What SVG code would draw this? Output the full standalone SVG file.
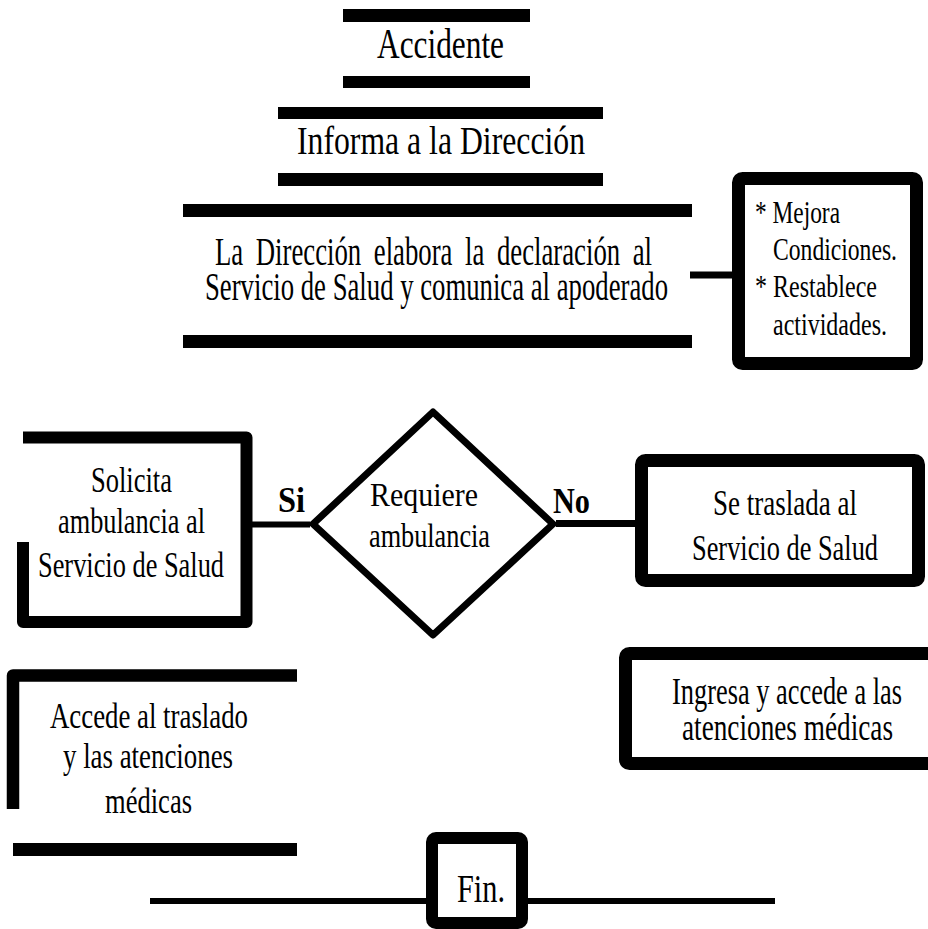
<svg xmlns="http://www.w3.org/2000/svg" width="928" height="929" viewBox="0 0 928 929">
<style>
.t{font-family:"Liberation Serif","Times New Roman",serif;fill:#000}
.b{font-family:"Liberation Serif","Times New Roman",serif;font-weight:bold;fill:#000}
.bar{fill:#000}
.frame{fill:#fff;stroke:#000;stroke-linejoin:round}
.open{fill:none;stroke:#000;stroke-linejoin:round}
.con{stroke:#000;fill:none}
</style>
<rect width="928" height="929" fill="#fff"/>
<g id="connectors">
<line class="con" x1="690" y1="275" x2="734" y2="275" stroke-width="7"/>
<line class="con" x1="250" y1="524.5" x2="310" y2="524.5" stroke-width="6"/>
<line class="con" x1="556" y1="523.5" x2="637" y2="523.5" stroke-width="7"/>
<line class="con" x1="150" y1="901" x2="428" y2="901" stroke-width="6"/>
<line class="con" x1="526" y1="901" x2="775" y2="901" stroke-width="6"/>
</g>
<g id="accidente">
<rect class="bar" x="343" y="9" width="187" height="13"/>
<rect class="bar" x="343" y="76" width="187" height="12"/>
<text class="t" x="377" y="58" font-size="42" textLength="127" lengthAdjust="spacingAndGlyphs">Accidente</text>
</g>
<g id="informa">
<rect class="bar" x="278" y="107" width="325" height="12"/>
<rect class="bar" x="278" y="173" width="325" height="13"/>
<text class="t" x="297" y="154" font-size="41" textLength="288" lengthAdjust="spacingAndGlyphs">Informa a la Dirección</text>
</g>
<g id="declaracion">
<rect class="bar" x="183" y="204" width="509" height="13"/>
<rect class="bar" x="183" y="335" width="509" height="13"/>
<text class="t" x="215" y="265" font-size="41" word-spacing="9" textLength="437" lengthAdjust="spacingAndGlyphs">La Dirección elabora la declaración al</text>
<text class="t" x="205" y="300" font-size="41" textLength="463" lengthAdjust="spacingAndGlyphs">Servicio de Salud y comunica al apoderado</text>
</g>
<g id="mejora">
<rect class="frame" x="738.5" y="178.5" width="178" height="185" rx="4" stroke-width="13"/>
<text class="t" x="755" y="223" font-size="32" textLength="85" lengthAdjust="spacingAndGlyphs">* Mejora</text>
<text class="t" x="773" y="260" font-size="32" textLength="124" lengthAdjust="spacingAndGlyphs">Condiciones.</text>
<text class="t" x="755" y="297" font-size="32" textLength="122" lengthAdjust="spacingAndGlyphs">* Restablece</text>
<text class="t" x="773" y="335" font-size="32" textLength="114" lengthAdjust="spacingAndGlyphs">actividades.</text>
</g>
<g id="solicita">
<path class="open" d="M23 437.5 H246.5 V622 H23 V542" stroke-width="12"/>
<text class="t" x="91" y="492" font-size="36" textLength="81" lengthAdjust="spacingAndGlyphs">Solicita</text>
<text class="t" x="58" y="533" font-size="36" textLength="147" lengthAdjust="spacingAndGlyphs">ambulancia al</text>
<text class="t" x="38" y="577" font-size="36" textLength="186" lengthAdjust="spacingAndGlyphs">Servicio de Salud</text>
</g>
<g id="si">
<text class="b" x="278" y="512" font-size="36" textLength="27" lengthAdjust="spacingAndGlyphs">Si</text>
</g>
<g id="requiere">
<polygon class="frame" points="433,412 553,524 433,635 313,524" stroke-width="7" stroke-linejoin="miter"/>
<text class="t" x="370" y="506" font-size="33" textLength="108" lengthAdjust="spacingAndGlyphs">Requiere</text>
<text class="t" x="369" y="547" font-size="33" textLength="121" lengthAdjust="spacingAndGlyphs">ambulancia</text>
</g>
<g id="no">
<text class="b" x="553" y="513" font-size="36" textLength="37" lengthAdjust="spacingAndGlyphs">No</text>
</g>
<g id="traslada">
<rect class="frame" x="641.5" y="460.5" width="277" height="120" rx="4" stroke-width="13"/>
<text class="t" x="713" y="515" font-size="36" textLength="144" lengthAdjust="spacingAndGlyphs">Se traslada al</text>
<text class="t" x="692" y="560" font-size="36" textLength="186" lengthAdjust="spacingAndGlyphs">Servicio de Salud</text>
</g>
<g id="ingresa">
<rect class="frame" x="625.5" y="653.5" width="330" height="110" rx="4" stroke-width="13"/>
<text class="t" x="672" y="704" font-size="37" textLength="230" lengthAdjust="spacingAndGlyphs">Ingresa y accede a las</text>
<text class="t" x="682" y="740" font-size="37" textLength="211" lengthAdjust="spacingAndGlyphs">atenciones médicas</text>
</g>
<g id="accede">
<path class="open" d="M297 675.5 H13 V809" stroke-width="12.5"/>
<rect class="bar" x="13" y="843" width="284" height="13"/>
<text class="t" x="50" y="728" font-size="36" textLength="198" lengthAdjust="spacingAndGlyphs">Accede al traslado</text>
<text class="t" x="63" y="768" font-size="36" textLength="170" lengthAdjust="spacingAndGlyphs">y las atenciones</text>
<text class="t" x="105" y="813" font-size="36" textLength="87" lengthAdjust="spacingAndGlyphs">médicas</text>
</g>
<g id="fin">
<rect class="frame" x="432" y="838" width="90" height="85" rx="4" stroke-width="12"/>
<text class="t" x="457" y="902" font-size="40" textLength="48" lengthAdjust="spacingAndGlyphs">Fin.</text>
</g>
</svg>
